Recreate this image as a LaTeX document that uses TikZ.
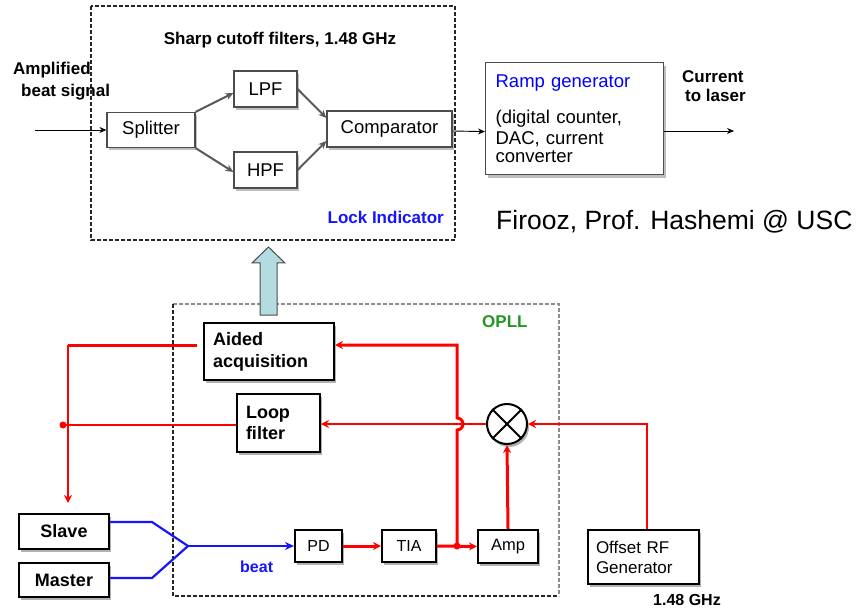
\documentclass[tikz,border=0pt]{standalone}
\usepackage{fontspec}
\setmainfont{Liberation Sans}
\usetikzlibrary{arrows.meta,calc,shadows}

\definecolor{pllred}{RGB}{255,0,0}
\definecolor{beamblue}{RGB}{20,20,255}
\definecolor{opllgreen}{RGB}{34,150,34}
\definecolor{upfill}{RGB}{180,220,224}

\newcommand{\fs}[1]{\fontsize{#1}{#1}\selectfont}

\tikzset{
  x=1pt, y=-1pt,
  topbox/.style={draw=black!70, line width=1.2pt, fill=white, inner sep=0pt,
    drop shadow={shadow xshift=2pt, shadow yshift=-3pt, fill=black!25, opacity=1},
    font=\fs{18.5}},
  lowbox/.style={draw=black, line width=2pt, fill=white, inner sep=0pt,
    drop shadow={shadow xshift=2pt, shadow yshift=-3pt, fill=black!30, opacity=1}},
  sigarrow/.style={-{Stealth[length=7pt,width=6pt]}, line width=0.9pt, black},
  filtarrow/.style={-{Stealth[length=8pt,width=7pt]}, line width=2pt, black!65},
  redthick/.style={pllred, line width=3pt},
  redthin/.style={pllred, line width=1.3pt},
  redtip/.style={-{Stealth[length=8pt,width=8pt]}},
  bluebeam/.style={beamblue, line width=2.2pt},
  lbl/.style={inner sep=0pt, anchor=west},
  boldlbl/.style={inner sep=0pt, font=\bfseries\fs{17}},
}

\begin{document}
\begin{tikzpicture}
\useasboundingbox (0,0) rectangle (858,609);

% ---------------- lock indicator (upper dashed block) ----------------
\draw[black!85, line width=2pt, dash pattern=on 4pt off 2pt] (91,6) rectangle (455,240);
\node[boldlbl] (title) at (280,40) {Sharp cutoff filters, 1.48 GHz};
\node[boldlbl, text=beamblue, anchor=east] (lockind) at (444,217) {Lock Indicator};

\node[topbox, minimum width=88, minimum height=35] (split) at (151,130) {Splitter};
\node[topbox, minimum width=63, minimum height=36] (lpf) at (265.5,89) {LPF};
\node[topbox, minimum width=63, minimum height=36] (hpf) at (265.5,170) {HPF};
\node[topbox, minimum width=125, minimum height=36] (comp) at (389.5,129) {Comparator};

\node[topbox, anchor=north west, minimum width=178, minimum height=112,
      text width=158, inner xsep=10pt, align=left] (ramp) at (485,62)
  {\fontsize{18.5}{21}\selectfont{\color{blue}Ramp generator}\\[15pt]
   (digital counter,\\ DAC, current\\ converter};

\node[boldlbl, anchor=west] (ampl1) at (13,70) {Amplified};
\node[boldlbl, anchor=west] (ampl2) at (21,92) {beat signal};
\node[boldlbl, anchor=west] (cur1) at (682,77) {Current};
\node[boldlbl, anchor=west] (cur2) at (685,95) {to laser};

\node[lbl, font=\fs{26.5}] (credit) at (496,222) {Firooz, Prof. Hashemi @ USC};

\coordinate (beatin) at (35,130);
\coordinate (laserout) at (734,131);

\draw[sigarrow] (beatin) -- (split.west);
\draw[filtarrow] (split.north east) -- ($(lpf.west)+(0,4)$);
\draw[filtarrow] (split.south east) -- ($(hpf.west)+(0,2)$);
\draw[filtarrow] (lpf.east) -- ($(comp.west)+(0,-11)$);
\draw[filtarrow] (hpf.east) -- ($(comp.west)+(0,12)$);
\draw[sigarrow] ($(comp.east)+(0,2)$) -- ($(ramp.west)+(0,13)$);
\draw[sigarrow] (ramp.east |- laserout) -- (laserout);

% ---------------- OPLL (lower dashed block) ----------------
\draw[black!45, line width=2pt, dash pattern=on 4pt off 2pt] (173,304) -- (559,304) -- (559,596);
\draw[black!85, line width=2.5pt, dash pattern=on 4pt off 2pt] (173,304) -- (173,596) -- (559,596);
\node[boldlbl, text=opllgreen, anchor=west] (oplllbl) at (482,322) {OPLL};

% hand-over arrow from the OPLL up to the lock indicator
\draw[black!70, line width=1pt, fill=upfill]
  (260,315) -- (260,263) -- (252,263) -- (268.5,247) -- (285,263) -- (277,263) -- (277,315) -- cycle;

\node[lowbox, minimum width=130, minimum height=57, text width=112, inner xsep=9pt,
      align=left, font=\bfseries\fontsize{18}{22}\selectfont] (aided) at (269,351.5)
  {Aided\\acquisition};
\node[lowbox, minimum width=83, minimum height=58, text width=65, inner xsep=9pt,
      align=left, font=\bfseries\fontsize{18}{21}\selectfont] (loop) at (278.5,423)
  {Loop\\filter};
\node[lowbox, circle, minimum size=40] (mixer) at (507,424) {};
\draw[line width=2pt] (mixer.north west) -- (mixer.south east);
\draw[line width=2pt] (mixer.north east) -- (mixer.south west);

\node[lowbox, minimum width=90, minimum height=35, font=\bfseries\fs{18}] (slave) at (64,531.5) {Slave};
\node[lowbox, minimum width=90, minimum height=34, font=\bfseries\fs{18}] (master) at (64,580) {Master};
\node[lowbox, minimum width=47, minimum height=32, font=\fs{16}] (pd) at (318.5,546) {PD};
\node[lowbox, minimum width=54, minimum height=32, font=\fs{16}] (tia) at (409,546) {TIA};
\node[lowbox, minimum width=60, minimum height=33, font=\fs{16.5}] (amp) at (508,546.5) {Amp};
\node[lowbox, minimum width=111, minimum height=54, text width=95, inner xsep=8pt,
      align=left, font=\fontsize{17}{20}\selectfont] (rf) at (643.5,557)
  {Offset RF\\Generator};
\node[boldlbl, anchor=west, font=\bfseries\fs{16}] (rflbl) at (653,600) {1.48 GHz};
\node[boldlbl, text=beamblue, anchor=west, font=\bfseries\fs{16}] (beatlbl) at (240,567) {beat};

% optical paths: slave and master combined into the beat note
\coordinate (sbend) at (152,522);
\coordinate (mbend) at (152,578);
\coordinate (merge) at (188,546);
\draw[bluebeam, line join=round] (slave.east |- sbend) -- (sbend) -- (merge);
\draw[bluebeam, line join=round] (master.east |- mbend) -- (mbend) -- (merge);
\draw[bluebeam, -{Stealth[length=9pt,width=8pt]}] (merge) -- (pd.west);

% electrical paths
\coordinate (jn) at (457,546);
\coordinate (aidturn) at (457,345);
\coordinate (tl) at (68,345);
\coordinate (ldot) at (63,425);
\coordinate (slvin) at (68,503);
\coordinate (rfturn) at (647,424);

\draw[redthick, redtip] (pd.east) -- (tia.west);
\draw[redthick, redtip] (tia.east) -- (amp.west);
\fill[pllred] (jn) circle (3.5);
\draw[redthick, redtip] (amp.north) -- (mixer.south);
\draw[redthick, redtip] (jn) -- (457,430) arc[start angle=90, end angle=-90, radius=6]
  -- (aidturn) -- (aided.east |- aidturn);
\draw[redthin, redtip] (mixer.west) -- (loop.east |- mixer.west);
\draw[redthin, line width=1.8pt, redtip] (rf.north -| rfturn) -- (rfturn) -- (mixer.east);

\draw[redthick] ($(aided.west |- tl)+(-6,0)$) -- (tl);
\draw[redthin, redtip] (tl) -- (slvin);
\draw[redthin] (loop.west |- ldot) -- (ldot);
\fill[pllred] (ldot) circle (3.5);

\end{tikzpicture}
\end{document}
